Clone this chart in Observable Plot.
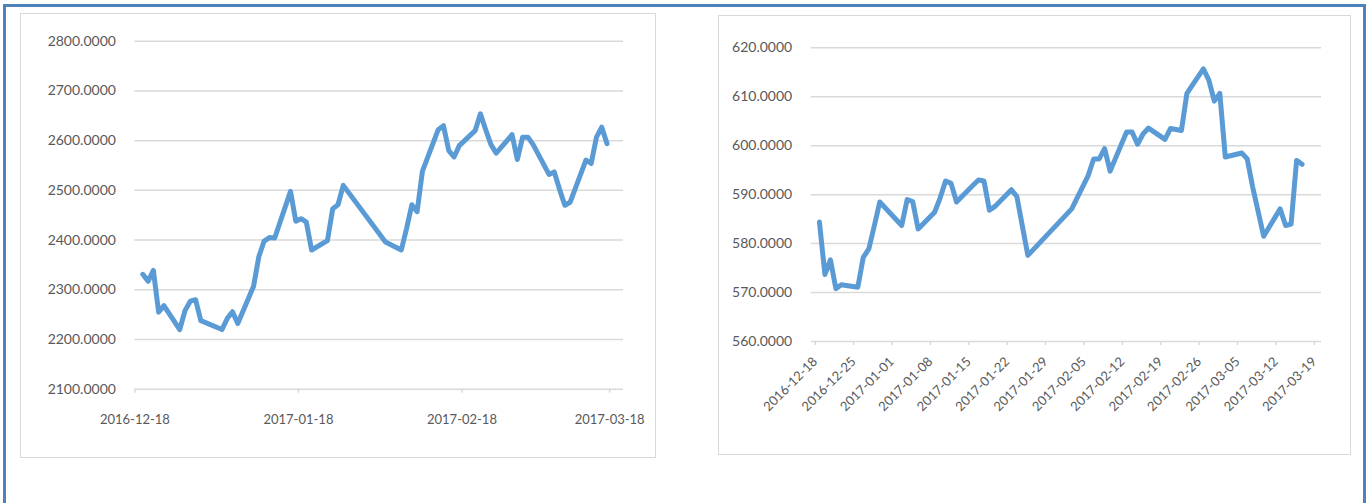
<!DOCTYPE html>
<html><head><meta charset="utf-8">
<script src="https://cdn.jsdelivr.net/npm/d3@7"></script>
<script src="https://cdn.jsdelivr.net/npm/@observablehq/plot@0.6"></script>
<style>
html,body{margin:0;padding:0;background:#fff;width:1368px;height:503px;overflow:hidden;position:relative;}
#frame{position:absolute;left:3px;top:4px;width:1363px;height:600px;border:3px solid #4f81bd;box-sizing:border-box;}
.panel{position:absolute;border:1.5px solid #d9d9d9;box-sizing:border-box;}
.chart{position:absolute;}
#c1,#p1{left:20px;top:13px;width:636px;height:445px;}
#c2,#p2{left:718px;top:15px;width:633px;height:440px;}
</style></head><body>
<div id="frame"></div>
<div class="chart" id="c1"></div>
<div class="chart" id="c2"></div>
<div class="panel" id="p1"></div>
<div class="panel" id="p2"></div>
<script>
// trading days
const dates = [
"2016-12-19","2016-12-20","2016-12-21","2016-12-22","2016-12-23","2016-12-26","2016-12-27","2016-12-28","2016-12-29","2016-12-30",
"2017-01-03","2017-01-04","2017-01-05","2017-01-06","2017-01-09","2017-01-10","2017-01-11","2017-01-12","2017-01-13","2017-01-16",
"2017-01-17","2017-01-18","2017-01-19","2017-01-20","2017-01-23","2017-01-24","2017-01-25","2017-01-26","2017-02-03","2017-02-06",
"2017-02-07","2017-02-08","2017-02-09","2017-02-10","2017-02-13","2017-02-14","2017-02-15","2017-02-16","2017-02-17","2017-02-20",
"2017-02-21","2017-02-22","2017-02-23","2017-02-24","2017-02-27","2017-02-28","2017-03-01","2017-03-02","2017-03-03","2017-03-06",
"2017-03-07","2017-03-08","2017-03-09","2017-03-10","2017-03-13","2017-03-14","2017-03-15","2017-03-16","2017-03-17"];

const leftValues = [
2331,2317,2339,2255,2268,2220,2258,2277,2280,2238,
2220,2242,2256,2232,2307,2367,2398,2405,2404,2498,
2438,2443,2436,2380,2399,2463,2471,2510,2396,2380,
2423,2471,2457,2538,2622,2630,2580,2567,2590,2620,
2654,2622,2592,2575,2612,2562,2607,2607,2592,2532,
2537,2502,2470,2476,2561,2554,2607,2627,2594];

const rightValues = [
584.4,573.7,576.7,570.8,571.6,571.1,577.2,578.9,583.6,588.5,
583.7,589.0,588.6,583.0,586.4,589.3,592.8,592.3,588.5,591.9,
593.0,592.8,586.8,587.6,591.0,589.6,583.6,577.6,587.1,593.9,
597.3,597.3,599.4,594.8,602.8,602.8,600.3,602.4,603.6,601.3,
603.5,603.3,603.1,610.7,615.7,613.4,609.1,610.7,597.7,598.5,
597.3,591.5,586.5,581.5,587.1,583.7,584.0,597.0,596.2];

const leftYTicks = [2100,2200,2300,2400,2500,2600,2700,2800];
const leftXTicks = ["2016-12-18","2017-01-18","2017-02-18","2017-03-18"];
const rightYTicks = [560,570,580,590,600,610,620];
const rightXTicks = ["2016-12-18","2016-12-25","2017-01-01","2017-01-08","2017-01-15","2017-01-22","2017-01-29",
"2017-02-05","2017-02-12","2017-02-19","2017-02-26","2017-03-05","2017-03-12","2017-03-19"];

const day = s => new Date(s + "T12:00:00Z");
const tick = s => new Date(s + "T00:00:00Z");
const leftData = dates.map((d, i) => ({date: day(d), value: leftValues[i]}));
const rightData = dates.map((d, i) => ({date: day(d), value: rightValues[i]}));

const txt = "#595959", grid = "#d9d9d9", blue = "#5b9bd5";
const font = "Lato, 'Open Sans', sans-serif";

function labeler(list) {
  const m = new Map(list.map(s => [+tick(s), s]));
  return d => m.get(+d);
}

const left = Plot.plot({
  width: 636, height: 445,
  marginLeft: 114.4, marginRight: 33, marginTop: 27.7, marginBottom: 69.3,
  style: {fontFamily: font, background: "transparent"},
  x: {type: "utc", domain: [tick("2016-12-18"), new Date("2017-03-20T15:00:00Z")], label: null},
  y: {domain: [2100, 2800], label: null},
  marks: [
    Plot.gridY(leftYTicks, {stroke: grid, strokeOpacity: 1, strokeWidth: 1.5}),
    Plot.axisY(leftYTicks, {label: null, tickSize: 0, tickPadding: 19, tickFormat: d => d.toFixed(4), fontSize: 14, fill: txt}),
    Plot.axisX(leftXTicks.map(tick), {label: null, tickSize: 4, tickPadding: 22, stroke: grid, strokeWidth: 1.5, tickFormat: labeler(leftXTicks), fontSize: 13, fill: txt}),
    Plot.line(leftData, {x: "date", y: "value", stroke: blue, strokeWidth: 5, strokeLinejoin: "round", strokeLinecap: "round"})
  ]
});
document.getElementById("c1").appendChild(left);

const right = Plot.plot({
  width: 633, height: 440,
  marginLeft: 92.7, marginRight: 30, marginTop: 32.3, marginBottom: 114,
  style: {fontFamily: font, background: "transparent"},
  x: {type: "utc", domain: [tick("2016-12-18"), new Date("2017-03-21T01:00:00Z")], label: null},
  y: {domain: [560, 620], label: null},
  marks: [
    Plot.gridY(rightYTicks, {stroke: grid, strokeOpacity: 1, strokeWidth: 1.5}),
    Plot.axisY(rightYTicks, {label: null, tickSize: 0, tickPadding: 19, tickFormat: d => d.toFixed(4), fontSize: 14, fill: txt}),
    Plot.axisX(rightXTicks.map(tick), {label: null, tickSize: 4, tickPadding: 14, tickRotate: -45, dx: 4, stroke: grid, strokeWidth: 1.5, tickFormat: labeler(rightXTicks), fontSize: 13, fill: txt}),
    Plot.line(rightData, {x: "date", y: "value", stroke: blue, strokeWidth: 5, strokeLinejoin: "round", strokeLinecap: "round"})
  ]
});
document.getElementById("c2").appendChild(right);
</script>
</body></html>
